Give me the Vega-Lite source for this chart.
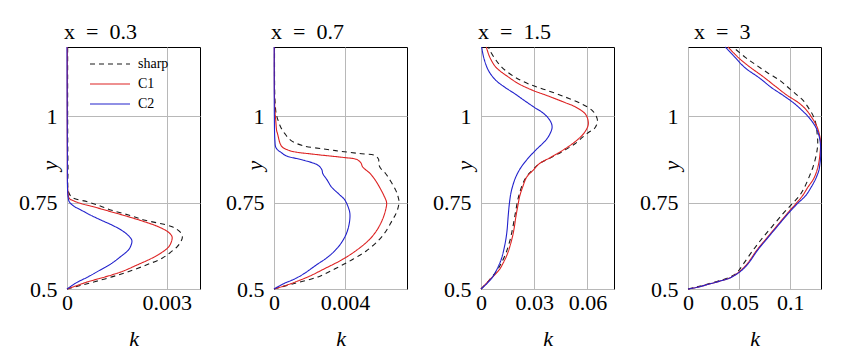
{
  "$schema": "https://vega.github.io/schema/vega-lite/v6.json",
  "padding": {"left": 18, "top": 20, "right": 5, "bottom": 5},
  "bounds": "flush",
  "spacing": 74,
  "resolve": {"scale": {"x": "independent", "y": "independent", "color": "shared", "strokeDash": "shared"}},
  "datasets": {
    "p1": [
      {"s":"sharp","y":1.2,"k":0.00002},{"s":"sharp","y":1.0,"k":0.00002},{"s":"sharp","y":0.85,"k":0.00003},{"s":"sharp","y":0.78,"k":0.00005},{"s":"sharp","y":0.764,"k":0.00017},{"s":"sharp","y":0.752,"k":0.00063},{"s":"sharp","y":0.74,"k":0.001},{"s":"sharp","y":0.728,"k":0.00134},{"s":"sharp","y":0.714,"k":0.00185},{"s":"sharp","y":0.699,"k":0.00235},{"s":"sharp","y":0.68,"k":0.00316},{"s":"sharp","y":0.665,"k":0.0034},{"s":"sharp","y":0.651,"k":0.00347},{"s":"sharp","y":0.636,"k":0.00342},{"s":"sharp","y":0.622,"k":0.00331},{"s":"sharp","y":0.605,"k":0.0031},{"s":"sharp","y":0.589,"k":0.00286},{"s":"sharp","y":0.57,"k":0.0024},{"s":"sharp","y":0.55,"k":0.00184},{"s":"sharp","y":0.535,"k":0.00135},{"s":"sharp","y":0.521,"k":0.00083},{"s":"sharp","y":0.51,"k":0.0004},{"s":"sharp","y":0.5,"k":0},
      {"s":"C1","y":1.2,"k":0.00001},{"s":"C1","y":0.9,"k":0.00001},{"s":"C1","y":0.78,"k":0.00003},{"s":"C1","y":0.762,"k":0.00007},{"s":"C1","y":0.755,"k":0.0002},{"s":"C1","y":0.747,"k":0.00043},{"s":"C1","y":0.735,"k":0.0009},{"s":"C1","y":0.723,"k":0.00134},{"s":"C1","y":0.709,"k":0.00185},{"s":"C1","y":0.694,"k":0.00235},{"s":"C1","y":0.682,"k":0.0027},{"s":"C1","y":0.67,"k":0.00296},{"s":"C1","y":0.66,"k":0.0031},{"s":"C1","y":0.651,"k":0.00316},{"s":"C1","y":0.64,"k":0.00315},{"s":"C1","y":0.622,"k":0.00306},{"s":"C1","y":0.605,"k":0.00284},{"s":"C1","y":0.589,"k":0.00255},{"s":"C1","y":0.57,"k":0.00212},{"s":"C1","y":0.55,"k":0.00164},{"s":"C1","y":0.535,"k":0.00115},{"s":"C1","y":0.521,"k":0.00063},{"s":"C1","y":0.51,"k":0.0003},{"s":"C1","y":0.5,"k":0},
      {"s":"C2","y":1.2,"k":0},{"s":"C2","y":0.9,"k":0.00001},{"s":"C2","y":0.78,"k":0.00002},{"s":"C2","y":0.762,"k":0.00004},{"s":"C2","y":0.752,"k":0.00007},{"s":"C2","y":0.74,"k":0.0002},{"s":"C2","y":0.728,"k":0.00043},{"s":"C2","y":0.714,"k":0.0007},{"s":"C2","y":0.699,"k":0.00103},{"s":"C2","y":0.685,"k":0.00135},{"s":"C2","y":0.67,"k":0.00164},{"s":"C2","y":0.655,"k":0.00184},{"s":"C2","y":0.641,"k":0.00195},{"s":"C2","y":0.625,"k":0.00192},{"s":"C2","y":0.612,"k":0.00184},{"s":"C2","y":0.595,"k":0.00163},{"s":"C2","y":0.574,"k":0.00134},{"s":"C2","y":0.555,"k":0.001},{"s":"C2","y":0.535,"k":0.00063},{"s":"C2","y":0.518,"k":0.00028},{"s":"C2","y":0.5,"k":0}
    ],
    "p2": [
      {"s":"sharp","y":1.2,"k":0.00003},{"s":"sharp","y":1.05,"k":0.00005},{"s":"sharp","y":1.007,"k":0.00012},{"s":"sharp","y":0.997,"k":0.00017},{"s":"sharp","y":0.985,"k":0.00025},{"s":"sharp","y":0.968,"k":0.00038},{"s":"sharp","y":0.95,"k":0.0006},{"s":"sharp","y":0.93,"k":0.00095},{"s":"sharp","y":0.915,"k":0.0016},{"s":"sharp","y":0.905,"k":0.0028},{"s":"sharp","y":0.898,"k":0.0038},{"s":"sharp","y":0.892,"k":0.0048},{"s":"sharp","y":0.886,"k":0.0057},{"s":"sharp","y":0.875,"k":0.0059},{"s":"sharp","y":0.863,"k":0.0059},{"s":"sharp","y":0.85,"k":0.006},{"s":"sharp","y":0.834,"k":0.00629},{"s":"sharp","y":0.81,"k":0.0066},{"s":"sharp","y":0.786,"k":0.00686},{"s":"sharp","y":0.77,"k":0.00698},{"s":"sharp","y":0.752,"k":0.00705},{"s":"sharp","y":0.73,"k":0.00697},{"s":"sharp","y":0.715,"k":0.00685},{"s":"sharp","y":0.699,"k":0.00667},{"s":"sharp","y":0.67,"k":0.00635},{"s":"sharp","y":0.641,"k":0.0059},{"s":"sharp","y":0.61,"k":0.0052},{"s":"sharp","y":0.584,"k":0.00438},{"s":"sharp","y":0.56,"k":0.0035},{"s":"sharp","y":0.535,"k":0.00248},{"s":"sharp","y":0.516,"k":0.00114},{"s":"sharp","y":0.5,"k":0},
      {"s":"C1","y":1.2,"k":0.00002},{"s":"C1","y":1.03,"k":0.00004},{"s":"C1","y":0.987,"k":0.0001},{"s":"C1","y":0.958,"k":0.00015},{"s":"C1","y":0.949,"k":0.0002},{"s":"C1","y":0.92,"k":0.00035},{"s":"C1","y":0.91,"k":0.00048},{"s":"C1","y":0.9,"k":0.0009},{"s":"C1","y":0.896,"k":0.00125},{"s":"C1","y":0.89,"k":0.0022},{"s":"C1","y":0.885,"k":0.0031},{"s":"C1","y":0.88,"k":0.004},{"s":"C1","y":0.875,"k":0.00465},{"s":"C1","y":0.865,"k":0.0049},{"s":"C1","y":0.853,"k":0.005},{"s":"C1","y":0.835,"k":0.0054},{"s":"C1","y":0.815,"k":0.00571},{"s":"C1","y":0.79,"k":0.006},{"s":"C1","y":0.77,"k":0.0062},{"s":"C1","y":0.75,"k":0.00635},{"s":"C1","y":0.73,"k":0.0063},{"s":"C1","y":0.699,"k":0.0061},{"s":"C1","y":0.67,"k":0.0058},{"s":"C1","y":0.641,"k":0.00534},{"s":"C1","y":0.61,"k":0.0046},{"s":"C1","y":0.584,"k":0.00381},{"s":"C1","y":0.56,"k":0.0029},{"s":"C1","y":0.535,"k":0.00191},{"s":"C1","y":0.512,"k":0.00076},{"s":"C1","y":0.5,"k":0},
      {"s":"C2","y":1.2,"k":0.00001},{"s":"C2","y":1.0,"k":0.00002},{"s":"C2","y":0.93,"k":0.00005},{"s":"C2","y":0.91,"k":0.0001},{"s":"C2","y":0.9,"k":0.00025},{"s":"C2","y":0.896,"k":0.00038},{"s":"C2","y":0.886,"k":0.00065},{"s":"C2","y":0.872,"k":0.00171},{"s":"C2","y":0.858,"k":0.00248},{"s":"C2","y":0.845,"k":0.0027},{"s":"C2","y":0.834,"k":0.00275},{"s":"C2","y":0.815,"k":0.003},{"s":"C2","y":0.795,"k":0.00324},{"s":"C2","y":0.775,"k":0.00365},{"s":"C2","y":0.757,"k":0.004},{"s":"C2","y":0.73,"k":0.00423},{"s":"C2","y":0.718,"k":0.00428},{"s":"C2","y":0.699,"k":0.00427},{"s":"C2","y":0.675,"k":0.00418},{"s":"C2","y":0.651,"k":0.004},{"s":"C2","y":0.62,"k":0.0036},{"s":"C2","y":0.593,"k":0.00305},{"s":"C2","y":0.57,"k":0.0024},{"s":"C2","y":0.545,"k":0.00171},{"s":"C2","y":0.53,"k":0.0012},{"s":"C2","y":0.516,"k":0.00057},{"s":"C2","y":0.5,"k":0}
    ],
    "p3": [
      {"s":"sharp","y":1.2,"k":0.0042},{"s":"sharp","y":1.189,"k":0.0051},{"s":"sharp","y":1.165,"k":0.008},{"s":"sharp","y":1.141,"k":0.0118},{"s":"sharp","y":1.115,"k":0.0185},{"s":"sharp","y":1.093,"k":0.0269},{"s":"sharp","y":1.075,"k":0.037},{"s":"sharp","y":1.055,"k":0.0477},{"s":"sharp","y":1.035,"k":0.057},{"s":"sharp","y":1.016,"k":0.0628},{"s":"sharp","y":1.0,"k":0.065},{"s":"sharp","y":0.987,"k":0.0657},{"s":"sharp","y":0.975,"k":0.0652},{"s":"sharp","y":0.963,"k":0.0638},{"s":"sharp","y":0.954,"k":0.061},{"s":"sharp","y":0.94,"k":0.0575},{"s":"sharp","y":0.92,"k":0.053},{"s":"sharp","y":0.901,"k":0.047},{"s":"sharp","y":0.88,"k":0.0395},{"s":"sharp","y":0.863,"k":0.033},{"s":"sharp","y":0.844,"k":0.029},{"s":"sharp","y":0.824,"k":0.0255},{"s":"sharp","y":0.8,"k":0.0232},{"s":"sharp","y":0.776,"k":0.0217},{"s":"sharp","y":0.757,"k":0.0207},{"s":"sharp","y":0.72,"k":0.0194},{"s":"sharp","y":0.68,"k":0.018},{"s":"sharp","y":0.64,"k":0.0163},{"s":"sharp","y":0.603,"k":0.014},{"s":"sharp","y":0.575,"k":0.0115},{"s":"sharp","y":0.555,"k":0.0092},{"s":"sharp","y":0.526,"k":0.0047},{"s":"sharp","y":0.5,"k":0},
      {"s":"C1","y":1.2,"k":0.003},{"s":"C1","y":1.17,"k":0.005},{"s":"C1","y":1.141,"k":0.0085},{"s":"C1","y":1.113,"k":0.0155},{"s":"C1","y":1.093,"k":0.0215},{"s":"C1","y":1.075,"k":0.029},{"s":"C1","y":1.059,"k":0.0375},{"s":"C1","y":1.04,"k":0.047},{"s":"C1","y":1.026,"k":0.0535},{"s":"C1","y":1.005,"k":0.059},{"s":"C1","y":0.983,"k":0.0605},{"s":"C1","y":0.97,"k":0.0602},{"s":"C1","y":0.954,"k":0.0585},{"s":"C1","y":0.939,"k":0.056},{"s":"C1","y":0.92,"k":0.0515},{"s":"C1","y":0.901,"k":0.046},{"s":"C1","y":0.88,"k":0.039},{"s":"C1","y":0.863,"k":0.033},{"s":"C1","y":0.844,"k":0.0295},{"s":"C1","y":0.824,"k":0.0258},{"s":"C1","y":0.795,"k":0.0235},{"s":"C1","y":0.77,"k":0.0219},{"s":"C1","y":0.747,"k":0.021},{"s":"C1","y":0.71,"k":0.0197},{"s":"C1","y":0.67,"k":0.0185},{"s":"C1","y":0.64,"k":0.0172},{"s":"C1","y":0.603,"k":0.015},{"s":"C1","y":0.575,"k":0.0125},{"s":"C1","y":0.555,"k":0.0102},{"s":"C1","y":0.526,"k":0.0048},{"s":"C1","y":0.5,"k":0},
      {"s":"C2","y":1.2,"k":0.0004},{"s":"C2","y":1.17,"k":0.0015},{"s":"C2","y":1.132,"k":0.0042},{"s":"C2","y":1.103,"k":0.0085},{"s":"C2","y":1.083,"k":0.0136},{"s":"C2","y":1.065,"k":0.019},{"s":"C2","y":1.045,"k":0.0245},{"s":"C2","y":1.025,"k":0.0302},{"s":"C2","y":1.007,"k":0.0355},{"s":"C2","y":0.985,"k":0.0392},{"s":"C2","y":0.968,"k":0.0401},{"s":"C2","y":0.95,"k":0.039},{"s":"C2","y":0.93,"k":0.0365},{"s":"C2","y":0.905,"k":0.0315},{"s":"C2","y":0.882,"k":0.0272},{"s":"C2","y":0.86,"k":0.0237},{"s":"C2","y":0.844,"k":0.0216},{"s":"C2","y":0.82,"k":0.0193},{"s":"C2","y":0.795,"k":0.0177},{"s":"C2","y":0.776,"k":0.0168},{"s":"C2","y":0.747,"k":0.016},{"s":"C2","y":0.709,"k":0.0153},{"s":"C2","y":0.67,"k":0.0147},{"s":"C2","y":0.64,"k":0.0139},{"s":"C2","y":0.61,"k":0.0127},{"s":"C2","y":0.584,"k":0.0113},{"s":"C2","y":0.555,"k":0.0088},{"s":"C2","y":0.535,"k":0.0066},{"s":"C2","y":0.515,"k":0.0032},{"s":"C2","y":0.5,"k":0}
    ],
    "p4": [
      {"s":"sharp","y":1.2,"k":0.044},{"s":"sharp","y":1.17,"k":0.056},{"s":"sharp","y":1.151,"k":0.0651},{"s":"sharp","y":1.125,"k":0.078},{"s":"sharp","y":1.103,"k":0.0899},{"s":"sharp","y":1.08,"k":0.099},{"s":"sharp","y":1.06,"k":0.107},{"s":"sharp","y":1.045,"k":0.1127},{"s":"sharp","y":1.026,"k":0.1173},{"s":"sharp","y":1.0,"k":0.1225},{"s":"sharp","y":0.978,"k":0.125},{"s":"sharp","y":0.95,"k":0.1262},{"s":"sharp","y":0.92,"k":0.1268},{"s":"sharp","y":0.89,"k":0.1255},{"s":"sharp","y":0.853,"k":0.1222},{"s":"sharp","y":0.825,"k":0.1185},{"s":"sharp","y":0.795,"k":0.114},{"s":"sharp","y":0.77,"k":0.109},{"s":"sharp","y":0.747,"k":0.102},{"s":"sharp","y":0.72,"k":0.0935},{"s":"sharp","y":0.68,"k":0.082},{"s":"sharp","y":0.641,"k":0.071},{"s":"sharp","y":0.612,"k":0.0635},{"s":"sharp","y":0.574,"k":0.0545},{"s":"sharp","y":0.555,"k":0.05},{"s":"sharp","y":0.545,"k":0.047},{"s":"sharp","y":0.535,"k":0.0415},{"s":"sharp","y":0.525,"k":0.032},{"s":"sharp","y":0.515,"k":0.02},{"s":"sharp","y":0.507,"k":0.01},{"s":"sharp","y":0.5,"k":0},
      {"s":"C1","y":1.2,"k":0.0391},{"s":"C1","y":1.17,"k":0.049},{"s":"C1","y":1.146,"k":0.0587},{"s":"C1","y":1.113,"k":0.074},{"s":"C1","y":1.088,"k":0.0847},{"s":"C1","y":1.06,"k":0.097},{"s":"C1","y":1.04,"k":0.1075},{"s":"C1","y":1.02,"k":0.115},{"s":"C1","y":0.997,"k":0.1208},{"s":"C1","y":0.97,"k":0.126},{"s":"C1","y":0.939,"k":0.129},{"s":"C1","y":0.92,"k":0.1296},{"s":"C1","y":0.89,"k":0.129},{"s":"C1","y":0.853,"k":0.127},{"s":"C1","y":0.82,"k":0.123},{"s":"C1","y":0.795,"k":0.1173},{"s":"C1","y":0.77,"k":0.112},{"s":"C1","y":0.747,"k":0.1055},{"s":"C1","y":0.72,"k":0.0975},{"s":"C1","y":0.68,"k":0.0862},{"s":"C1","y":0.641,"k":0.0752},{"s":"C1","y":0.612,"k":0.0672},{"s":"C1","y":0.574,"k":0.0582},{"s":"C1","y":0.555,"k":0.0522},{"s":"C1","y":0.54,"k":0.0455},{"s":"C1","y":0.532,"k":0.0408},{"s":"C1","y":0.521,"k":0.029},{"s":"C1","y":0.512,"k":0.018},{"s":"C1","y":0.505,"k":0.009},{"s":"C1","y":0.5,"k":0},
      {"s":"C2","y":1.2,"k":0.0365},{"s":"C2","y":1.17,"k":0.046},{"s":"C2","y":1.141,"k":0.0553},{"s":"C2","y":1.11,"k":0.07},{"s":"C2","y":1.083,"k":0.0814},{"s":"C2","y":1.06,"k":0.093},{"s":"C2","y":1.036,"k":0.1042},{"s":"C2","y":1.015,"k":0.112},{"s":"C2","y":0.997,"k":0.118},{"s":"C2","y":0.97,"k":0.1245},{"s":"C2","y":0.949,"k":0.1275},{"s":"C2","y":0.93,"k":0.129},{"s":"C2","y":0.91,"k":0.1296},{"s":"C2","y":0.88,"k":0.1296},{"s":"C2","y":0.863,"k":0.129},{"s":"C2","y":0.844,"k":0.128},{"s":"C2","y":0.82,"k":0.125},{"s":"C2","y":0.795,"k":0.1205},{"s":"C2","y":0.77,"k":0.115},{"s":"C2","y":0.747,"k":0.107},{"s":"C2","y":0.72,"k":0.0985},{"s":"C2","y":0.68,"k":0.087},{"s":"C2","y":0.641,"k":0.076},{"s":"C2","y":0.612,"k":0.068},{"s":"C2","y":0.574,"k":0.059},{"s":"C2","y":0.555,"k":0.053},{"s":"C2","y":0.54,"k":0.046},{"s":"C2","y":0.532,"k":0.041},{"s":"C2","y":0.521,"k":0.029},{"s":"C2","y":0.512,"k":0.018},{"s":"C2","y":0.505,"k":0.009},{"s":"C2","y":0.5,"k":0}
    ]
  },
  "config": {
    "font": "Liberation Serif, serif",
    "view": {"stroke": "#000000", "strokeWidth": 1},
    "axis": {"grid": true, "gridColor": "#b8b8b8", "gridWidth": 1, "domain": false, "ticks": false, "tickSize": 0, "labelFont": "Liberation Serif, serif", "labelFontSize": 22, "labelColor": "#000000", "titleFont": "Liberation Serif, serif", "titleFontSize": 22, "titleFontStyle": "italic", "titleFontWeight": "normal", "titleColor": "#000000", "labelFlush": false, "labelOverlap": false},
    "axisX": {"labelPadding": 3, "titlePadding": 15},
    "axisY": {"labelPadding": 10},
    "title": {"font": "Liberation Serif, serif", "fontSize": 22, "fontWeight": "normal", "anchor": "start", "frame": "group", "color": "#000000", "offset": 1, "baseline": "alphabetic", "dx": -3},
    "legend": {"title": null, "orient": "none", "legendX": 36, "legendY": 10, "symbolType": "M-4,0H4", "symbolSize": 100, "symbolStrokeWidth": 1.2, "labelFont": "Liberation Serif, serif", "labelFontSize": 14, "labelColor": "#000000", "rowPadding": 6, "labelOffset": 21, "padding": 0},
    "line": {"strokeWidth": 1.1, "interpolate": "catmull-rom"}
  },
  "hconcat": [
    {
      "title": "x\u2002=\u20020.3",
      "width": 133, "height": 242,
      "data": {"name": "p1"},
      "mark": {"type": "line"},
      "encoding": {
        "x": {"field": "k", "type": "quantitative", "scale": {"domain": [0, 0.004], "nice": false, "zero": false}, "axis": {"values": [0, 0.003], "format": "~g", "title": "k"}},
        "y": {"field": "y", "type": "quantitative", "scale": {"domain": [0.5, 1.2], "nice": false, "zero": false}, "axis": {"values": [0.5, 0.75, 1], "format": "~g", "title": "y", "titleX": -18, "titleY": 118, "titleAngle": -90, "titleAlign": "center", "titleBaseline": "middle"}},
        "color": {"field": "s", "type": "nominal", "scale": {"domain": ["sharp", "C1", "C2"], "range": ["#1a1a1a", "#dd2222", "#2222cc"]}},
        "strokeDash": {"field": "s", "type": "nominal", "scale": {"domain": ["sharp", "C1", "C2"], "range": [[5, 4], [1, 0], [1, 0]]}},
        "order": {"field": "y", "type": "quantitative"}
      }
    },
    {
      "title": "x\u2002=\u20020.7",
      "width": 133, "height": 242,
      "data": {"name": "p2"},
      "mark": {"type": "line"},
      "encoding": {
        "x": {"field": "k", "type": "quantitative", "scale": {"domain": [0, 0.0075], "nice": false, "zero": false}, "axis": {"values": [0, 0.004], "format": "~g", "title": "k"}},
        "y": {"field": "y", "type": "quantitative", "scale": {"domain": [0.5, 1.2], "nice": false, "zero": false}, "axis": {"values": [0.5, 0.75, 1], "format": "~g", "title": "y", "titleX": -20, "titleY": 118, "titleAngle": -90, "titleAlign": "center", "titleBaseline": "middle"}},
        "color": {"field": "s", "type": "nominal", "scale": {"domain": ["sharp", "C1", "C2"], "range": ["#1a1a1a", "#dd2222", "#2222cc"]}},
        "strokeDash": {"field": "s", "type": "nominal", "scale": {"domain": ["sharp", "C1", "C2"], "range": [[5, 4], [1, 0], [1, 0]]}},
        "order": {"field": "y", "type": "quantitative"}
      }
    },
    {
      "title": "x\u2002=\u20021.5",
      "width": 133, "height": 242,
      "data": {"name": "p3"},
      "mark": {"type": "line"},
      "encoding": {
        "x": {"field": "k", "type": "quantitative", "scale": {"domain": [0, 0.075], "nice": false, "zero": false}, "axis": {"values": [0, 0.03, 0.06], "format": "~g", "title": "k"}},
        "y": {"field": "y", "type": "quantitative", "scale": {"domain": [0.5, 1.2], "nice": false, "zero": false}, "axis": {"values": [0.5, 0.75, 1], "format": "~g", "title": "y", "titleX": -17, "titleY": 118, "titleAngle": -90, "titleAlign": "center", "titleBaseline": "middle"}},
        "color": {"field": "s", "type": "nominal", "scale": {"domain": ["sharp", "C1", "C2"], "range": ["#1a1a1a", "#dd2222", "#2222cc"]}},
        "strokeDash": {"field": "s", "type": "nominal", "scale": {"domain": ["sharp", "C1", "C2"], "range": [[5, 4], [1, 0], [1, 0]]}},
        "order": {"field": "y", "type": "quantitative"}
      }
    },
    {
      "title": {"text": "x\u2002=\u20023", "dx": 6},
      "width": 133, "height": 242,
      "data": {"name": "p4"},
      "mark": {"type": "line"},
      "encoding": {
        "x": {"field": "k", "type": "quantitative", "scale": {"domain": [0, 0.13], "nice": false, "zero": false}, "axis": {"values": [0, 0.05, 0.1], "format": "~g", "title": "k"}},
        "y": {"field": "y", "type": "quantitative", "scale": {"domain": [0.5, 1.2], "nice": false, "zero": false}, "axis": {"values": [0.5, 0.75, 1], "format": "~g", "title": "y", "titleX": -17, "titleY": 118, "titleAngle": -90, "titleAlign": "center", "titleBaseline": "middle"}},
        "color": {"field": "s", "type": "nominal", "scale": {"domain": ["sharp", "C1", "C2"], "range": ["#1a1a1a", "#dd2222", "#2222cc"]}},
        "strokeDash": {"field": "s", "type": "nominal", "scale": {"domain": ["sharp", "C1", "C2"], "range": [[5, 4], [1, 0], [1, 0]]}},
        "order": {"field": "y", "type": "quantitative"}
      }
    }
  ]
}
